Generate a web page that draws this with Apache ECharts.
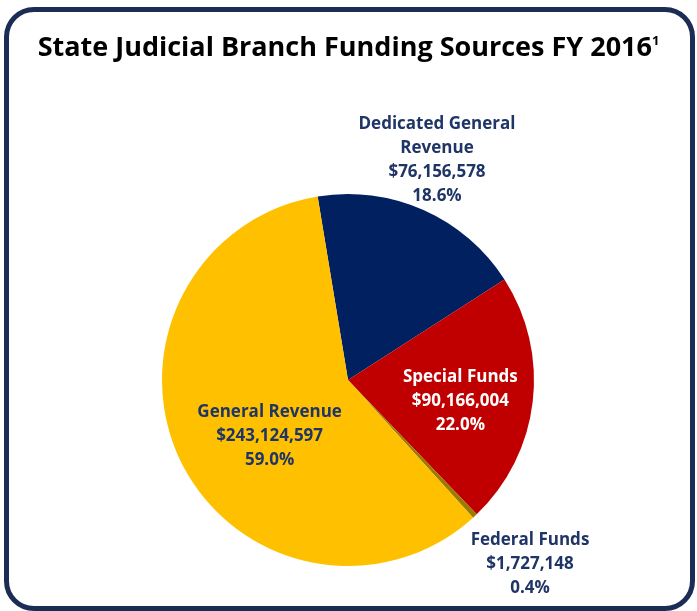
<!DOCTYPE html>
<html>
<head>
<meta charset="utf-8">
<script src="https://cdn.jsdelivr.net/npm/echarts@6/dist/echarts.min.js"></script>
<style>
  html, body { margin: 0; padding: 0; background: #fff; }
  #frame {
    position: absolute; left: 4px; top: 7px; width: 681px; height: 594px;
    border: 5px solid #1b2d55; border-radius: 30px; background: #fff;
  }
  #chart { position: absolute; left: 0; top: 0; width: 697px; height: 611px; }
</style>
</head>
<body>
<div id="frame"></div>
<div id="chart"></div>
<script>
"use strict";
const names = ["Dedicated General\nRevenue", "Special Funds", "Federal Funds", "General Revenue"];
const amounts = [76156578, 90166004, 1727148, 243124597];
const pctLabels = ["18.6%", "22.0%", "0.4%", "59.0%"];
const colors = ["#002060", "#c00000", "#9c7a00", "#ffc000"];

const money = (v) => "$" + v.toLocaleString("en-US");
const navy = "#1f3566";
const font = "'Open Sans', sans-serif";

// label placement: outside labels pulled to where the reference has them
const labelSpots = {
  0: {x: 437, y: 160},
  2: {x: 530, y: 564},
};

const chart = echarts.init(document.getElementById("chart"));
chart.setOption({
  animation: false,
  title: {
    text: "State Judicial Branch Funding Sources FY 2016{sup|1}",
    left: "center", top: 30,
    textStyle: {
      fontFamily: font, fontSize: 27, fontWeight: "bold", color: "#000",
      rich: {sup: {fontFamily: font, fontSize: 13, fontWeight: "bold", color: "#000", verticalAlign: "top", padding: [0, 0, 12, 0]}},
    },
  },
  series: [{
    type: "pie",
    center: [348, 380],
    radius: 186,
    startAngle: 99.4,
    clockwise: true,
    labelLine: {show: false},
    itemStyle: {borderWidth: 0},
    label: {
      fontFamily: font, fontSize: 17, fontWeight: "bold", lineHeight: 24,
      align: "center", color: navy,
    },
    labelLayout: (p) => {
      const s = labelSpots[p.dataIndex];
      if (s) return {x: s.x, y: s.y, align: "center", verticalAlign: "middle"};
      if (p.dataIndex === 1) return {dx: 17, dy: 10};
      if (p.dataIndex === 3) return {dx: 8, dy: 14};
      return {};
    },
    data: names.map((n, i) => ({
      name: n, value: amounts[i],
      itemStyle: {color: colors[i]},
      label: {
        position: (i === 0 || i === 2) ? "outside" : "inside",
        color: i === 1 ? "#fff" : navy,
        formatter: n + "\n" + money(amounts[i]) + "\n" + pctLabels[i],
      },
    })),
  }],
});
</script>
</body>
</html>
